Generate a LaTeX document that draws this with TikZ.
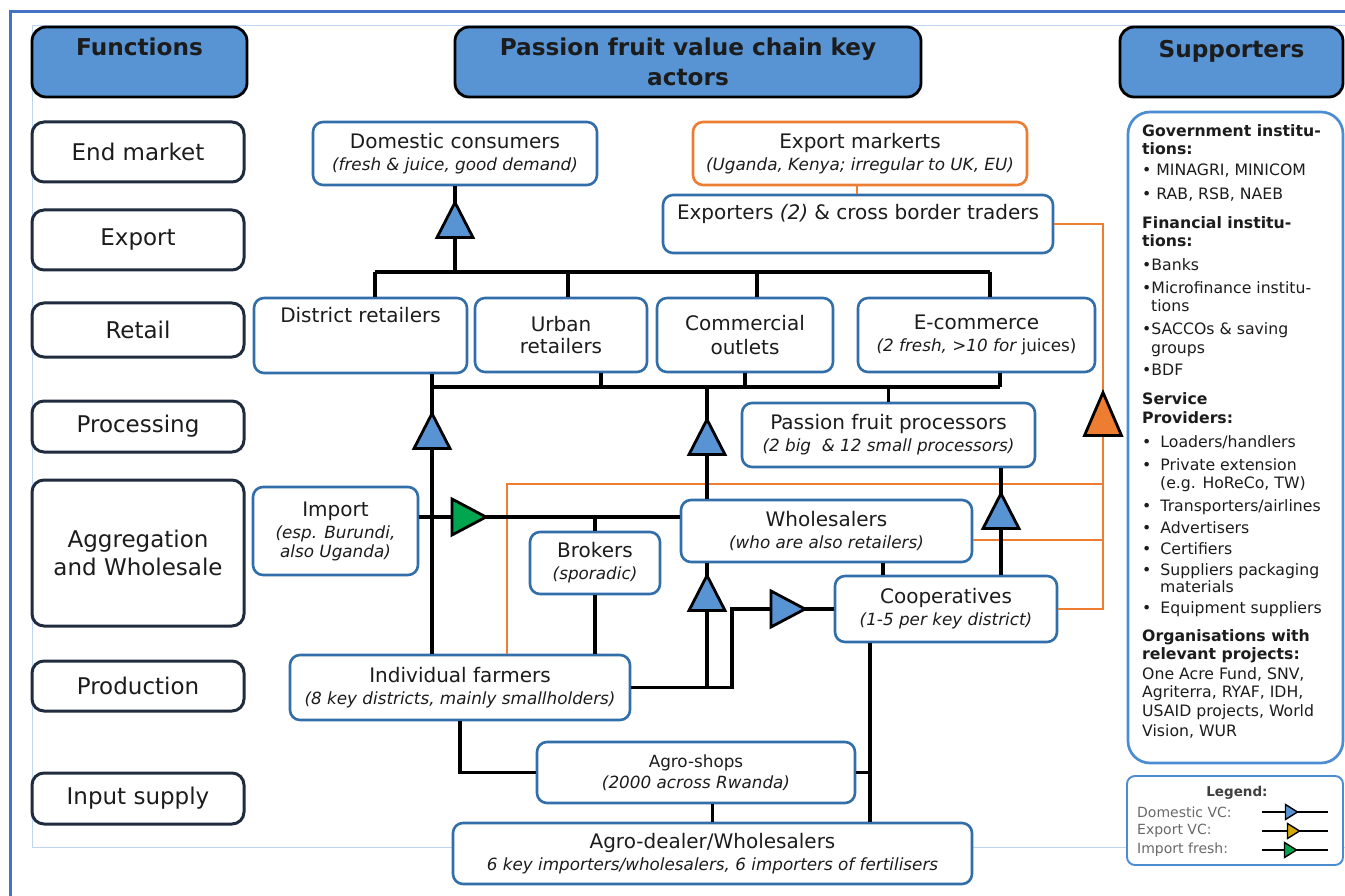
\documentclass[tikz,border=0pt]{standalone}
\usepackage{fontspec}
\setmainfont{DejaVu Sans}
\usetikzlibrary{calc}
\definecolor{hdrblue}{RGB}{88,148,212}
\definecolor{boxblue}{RGB}{50,110,170}
\definecolor{fnborder}{RGB}{32,44,62}
\definecolor{orng}{RGB}{237,125,49}
\definecolor{triblue}{RGB}{88,148,212}
\definecolor{trigreen}{RGB}{0,165,80}
\definecolor{trigold}{RGB}{214,170,0}
\definecolor{frameblue}{RGB}{68,114,196}
\definecolor{thinblue}{RGB}{190,212,240}
\definecolor{supblue}{RGB}{75,140,210}
\definecolor{txtc}{RGB}{28,28,28}
\definecolor{legtxt}{RGB}{105,105,105}
\newcommand\mysub[1]{{\fontsize{16.8}{22}\selectfont\itshape #1}}
\newcommand\mysubup[1]{{\fontsize{16.8}{22}\selectfont #1}}
\begin{document}
\begin{tikzpicture}[x=1pt,y=-1pt,
  every node/.append style={text=txtc},
  sz/.style 2 args={minimum width=#1pt, minimum height=#2pt},
  hdr/.style={draw=black, fill=hdrblue, line width=2.8pt, rounded corners=14pt, inner sep=0pt, align=center, font=\fontsize{23.2}{30}\selectfont\bfseries},
  fn/.style={draw=fnborder, fill=white, line width=3pt, rounded corners=12pt, inner sep=0pt, align=center, font=\fontsize{23}{28}\selectfont, minimum width=212pt},
  actor/.style={draw=boxblue, fill=white, line width=2.6pt, rounded corners=10pt, inner sep=0pt, align=center, font=\fontsize{20}{22}\selectfont},
  oactor/.style={actor, draw=orng},
  conn/.style={line width=3.3pt, draw=black, line join=miter},
  oconn/.style={line width=2.7pt, draw=orng},
  pics/uptri/.style={code={\draw[line width=2.8pt, line join=miter, fill=#1] (-18,17.5) -- (0,-17.5) -- (18,17.5) -- cycle;}},
  pics/bigtri/.style={code={\draw[line width=2.8pt, line join=miter, fill=#1] (-18.5,21.5) -- (0,-21.5) -- (18.5,21.5) -- cycle;}},
  pics/rtri/.style={code={\draw[line width=2.8pt, line join=miter, fill=#1] (-17,-18) -- (17,0) -- (-17,18) -- cycle;}},
  pics/ltri/.style={code={\draw[line width=1.4pt, line join=miter, fill=#1] (-5.5,-7.5) -- (6.5,0) -- (-5.5,7.5) -- cycle;}},
  legline/.style={line width=1.9pt, draw=black},
  legtext/.style={anchor=west, inner sep=0pt, text=legtxt, font=\fontsize{14}{16}\selectfont}
]
\useasboundingbox (0,0) rectangle (1345,896);
\fill[white] (0,0) rectangle (1345,896);

% frame
\draw[thinblue, line width=0.8pt] (32,847) -- (32,25) -- (1345,25);
\draw[thinblue, line width=0.8pt] (32,847) -- (1345,847);
\draw[frameblue, line width=3pt] (10,896) -- (10,12) -- (1345,12);

% headers
\node[hdr, sz={215}{70}, text height=16pt, text depth=28pt] (hfun) at (139.5,62) {Functions};
\node[hdr, sz={466}{70}] (hkey) at (688,62) {Passion fruit value chain key\\actors};
\node[hdr, sz={223}{70}, text height=16pt, text depth=24pt] (hsup) at (1231.5,62) {Supporters};

% functions column
\node[fn, sz={212}{60}] (fend) at (138,152) {End market};
\node[fn, sz={212}{60}] (fexp) at (138,240) {Export};
\node[fn, sz={212}{54}] (fret) at (138,330) {Retail};
\node[fn, sz={212}{51}] (fproc) at (138,426.5) {Processing};
\node[fn, sz={212}{146}] (fagg) at (138,553) {Aggregation\\and Wholesale};
\node[fn, sz={212}{50}] (fprod) at (138,686) {Production};
\node[fn, sz={212}{51}] (finp) at (138,798.5) {Input supply};

% actors
\node[actor, sz={284}{63}] (dc) at (455,153.5) {Domestic consumers\\\mysub{(fresh \& juice, good demand)}};
\node[oactor, sz={334}{63}] (em) at (860,153.5) {Export markerts\\\mysub{(Uganda, Kenya; irregular to UK, EU)}};
\node[actor, sz={390}{58}, text height=14pt, text depth=22pt] (ex) at (858,224) {Exporters \textit{(2)} \& cross border traders};
\node[actor, sz={213}{75}, text height=14pt, text depth=39pt] (dr) at (360.5,335.5) {District retailers};
\node[actor, sz={172}{74}] (ur) at (561,335) {Urban\\retailers};
\node[actor, sz={176}{74}, font=\fontsize{20}{24}\selectfont] (co) at (745,335) {Commercial\\outlets};
\node[actor, sz={237}{74}] (ec) at (976.5,335) {E-commerce\\\mysub{(2 fresh, >10 for}\mysubup{ juices)}};
\node[actor, sz={293}{64}] (pp) at (888.5,435) {Passion fruit processors\\\mysub{(2 big \ \& 12 small processors)}};
\node[actor, sz={165}{88}] (im) at (335.5,531) {Import\\\mysub{(esp. Burundi,}\\[-3pt]\mysub{also Uganda)}};
\node[actor, sz={130}{62}] (br) at (595,563) {Brokers\\\mysub{(sporadic)}};
\node[actor, sz={291}{62}] (ws) at (826.5,531) {Wholesalers\\\mysub{(who are also retailers)}};
\node[actor, sz={222}{66}] (cp) at (946,609) {Cooperatives\\\mysub{(1-5 per key district)}};
\node[actor, sz={340}{65}] (fa) at (460,687.5) {Individual farmers\\\mysub{(8 key districts, mainly smallholders)}};
\node[actor, sz={318}{61}, font=\fontsize{16.8}{21}\selectfont] (as) at (696,772.5) {Agro-shops\\\mysub{(2000 across Rwanda)}};
\node[actor, sz={519}{61}] (ad) at (712.5,853.5) {Agro-dealer/Wholesalers\\\mysub{6 key importers/wholesalers, 6 importers of fertilisers}};

% supporters
\node[draw=supblue, fill=white, line width=2.7pt, rounded corners=22pt, sz={215}{651}] (sup) at (1235.5,437.5) {};
\node[anchor=north west, align=left, inner sep=0pt, font=\fontsize{15.7}{18.3}\selectfont] (suptxt) at (1142,124) {%
\textbf{Government institu-}\\
\textbf{tions:}\\[3pt]
• MINAGRI, MINICOM\\[5pt]
• RAB, RSB, NAEB\\[11pt]
\textbf{Financial institu-}\\
\textbf{tions:}\\[6pt]
•Banks\\[4pt]
•Microfinance institu-\\
\hspace*{9pt}tions\\[5pt]
•SACCOs \& saving\\
\hspace*{9pt}groups\\[4pt]
•BDF\\[11pt]
\textbf{Service}\\
\textbf{Providers:}\\[6pt]
•\hspace{9pt}Loaders/handlers\\[5pt]
•\hspace{9pt}Private extension\\
\hspace*{18pt}(e.g. HoReCo, TW)\\[4pt]
•\hspace{9pt}Transporters/airlines\\[4pt]
•\hspace{9pt}Advertisers\\[3pt]
•\hspace{9pt}Certifiers\\[2pt]
•\hspace{9pt}Suppliers packaging\\[-1pt]
\hspace*{18pt}materials\\[3pt]
•\hspace{9pt}Equipment suppliers\\[9pt]
\textbf{Organisations with}\\
\textbf{relevant projects:}\\[2pt]
One Acre Fund, SNV,\\
Agriterra, RYAF, IDH,\\
USAID projects, World\\[2pt]
Vision, WUR};

% legend
\node[draw=supblue, fill=white, line width=1.9pt, rounded corners=8pt, sz={216}{89}] (leg) at (1235,820.5) {};
\node[inner sep=0pt, text=legtxt!60!black, font=\fontsize{13.5}{15}\selectfont\bfseries] (legt) at (1237,793) {Legend:};
\node[legtext] (l1) at (1137,812) {Domestic VC:};
\node[legtext] (l2) at (1137,831) {Export VC:};
\node[legtext] (l3) at (1137,850) {Import fresh:};
\coordinate (la1) at (1262,812); \coordinate (lb1) at (1328,812);
\coordinate (la2) at (1262,831); \coordinate (lb2) at (1328,831);
\coordinate (la3) at (1262,850); \coordinate (lb3) at (1328,850);
\draw[legline] (la1) -- (lb1);
\draw[legline] (la2) -- (lb2);
\draw[legline] (la3) -- (lb3);
\pic at (1291,812) {ltri=triblue};
\pic at (1293,831) {ltri=trigold};
\pic at (1290,850) {ltri=trigreen};

% junction coordinates
\coordinate (jT) at (455,272);
\coordinate (jTL) at (375,272);
\coordinate (jTu) at (568,272);
\coordinate (jTc) at (757,272);
\coordinate (jTR) at (990,272);
\coordinate (jB1) at (432,387);
\coordinate (jB2) at (601,387);
\coordinate (jB3) at (745,387);
\coordinate (jBc) at (707,387);
\coordinate (jB4) at (1000,387);
\coordinate (jIm) at (420,517);
\coordinate (jF) at (707,687);
\coordinate (jF2) at (732,687);
\coordinate (jWC) at (883,570);
\coordinate (jCP) at (1001,500);
\coordinate (jCD) at (870,700);
\coordinate (jO) at (1103,224);
\coordinate (jO2) at (1103,540);
\coordinate (jO3) at (507,484);
\coordinate (jE) at (857,190);

% orange connectors (export VC)
\draw[oconn] (jE |- em.south) -- (jE |- ex.north);
\draw[oconn] (ex.east) -- (ex.east -| jO) -- (jO |- cp.east) -- (cp.east);
\draw[oconn] (ws.east |- jO2) -- (jO2);
\draw[oconn] (jO3 |- fa.north) -- (jO3) -- (jO3 -| jO);

% black connectors
\draw[conn] (jT) -- (dc.south);
\draw[conn] (jTL) -- (jTR);
\draw[conn] (jTL) -- (jTL |- dr.north);
\draw[conn] (jTu) -- (jTu |- ur.north);
\draw[conn] (jTc) -- (jTc |- co.north);
\draw[conn] (jTR) -- (jTR |- ec.north);
\draw[conn] (jB1) -- (jB4);
\draw[conn] (jB1 |- dr.south) -- (jB1 |- fa.north);
\draw[conn] (jB2 |- ur.south) -- (jB2);
\draw[conn] (jB3 |- co.south) -- (jB3);
\draw[conn] (jB4 |- ec.south) -- (jB4);
\draw[conn] (pp.north) -- (pp.north |- jB1);
\draw[conn] (jBc) -- (jBc |- ws.north);
\draw[conn] (im.east |- jIm) -- (ws.west |- jIm);
\draw[conn] (br.north |- jIm) -- (br.north);
\draw[conn] (br.south) -- (br.south |- fa.north);
\draw[conn] (fa.east -| jF) -- (jF |- ws.south);
\draw[conn] (fa.east) -- (fa.east -| jF2) -- (jF2 |- cp.west) -- (cp.west);
\draw[conn] (jWC |- ws.south) -- (jWC |- cp.north);
\draw[conn] (jCP |- cp.north) -- (jCP |- pp.south);
\draw[conn] (jCD |- cp.south) -- (jCD |- ad.north);
\draw[conn] (as.east) -- (as.east -| jCD);
\draw[conn] (fa.south) -- (fa.south |- as.west) -- (as.west);
\draw[conn] (ad.north |- as.south) -- (ad.north);

% flow triangles
\pic (t1) at (455,220) {uptri=triblue};
\pic (t2) at (432,431) {uptri=triblue};
\pic (t3) at (707,437) {uptri=triblue};
\pic (t4) at (707,593) {uptri=triblue};
\pic (t5) at (788,609) {rtri=triblue};
\pic (t6) at (1001,511) {uptri=triblue};
\pic (t7) at (1103,414) {bigtri=orng};
\pic (t8) at (469,517) {rtri=trigreen};
\end{tikzpicture}
\end{document}
